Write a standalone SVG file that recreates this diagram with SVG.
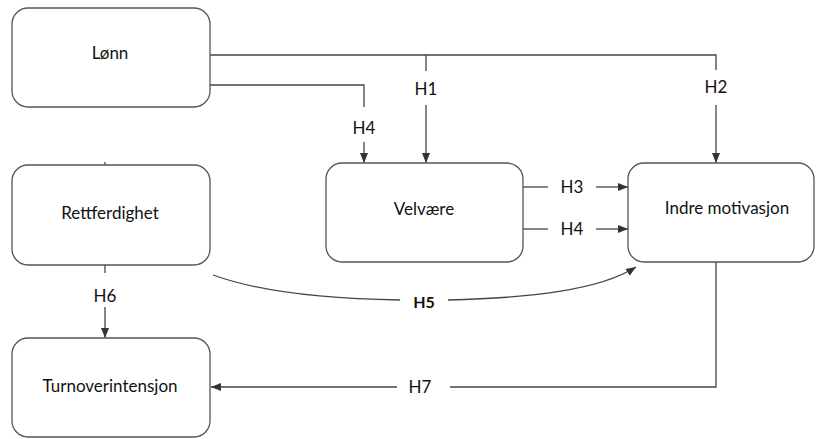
<svg xmlns="http://www.w3.org/2000/svg" width="816" height="439" viewBox="0 0 816 439">
<defs>
<marker id="ah" viewBox="0 0 10 10" refX="10" refY="5" markerWidth="10" markerHeight="10" markerUnits="userSpaceOnUse" orient="auto">
<path d="M0,1 L10,5 L0,9 z" fill="#333"/>
</marker>
<style>
.box{fill:#fff;stroke:#555;stroke-width:1.3}
.t{font-family:Lato,"Open Sans",sans-serif;font-size:17px;fill:#111;text-anchor:middle}
.l{font-family:Lato,"Open Sans",sans-serif;font-size:17px;fill:#111;text-anchor:middle}
.c{fill:none;stroke:#444;stroke-width:1.3}
.a{marker-end:url(#ah)}
</style>
</defs>
<rect width="816" height="439" fill="#fff"/>
<g id="connectors">
<polyline class="c" points="210,55 716,55 716,70"/>
<line class="c" x1="426" y1="55" x2="426" y2="71"/>
<line class="c a" x1="426" y1="105" x2="426" y2="163"/>
<line class="c a" x1="716" y1="105" x2="716" y2="163"/>
<polyline class="c" points="210,85 364,85 364,107"/>
<line class="c a" x1="364" y1="142" x2="364" y2="163"/>
<line class="c" x1="523" y1="187" x2="548" y2="187"/>
<line class="c a" x1="596" y1="187" x2="628" y2="187"/>
<line class="c" x1="523" y1="229" x2="548" y2="229"/>
<line class="c a" x1="596" y1="229" x2="628" y2="229"/>
<path class="c" d="M213,275 C260,292 330,299 400,300"/>
<path class="c a" d="M448,300 C530,298 600,290 636,267"/>
<line class="c" x1="105" y1="265" x2="105" y2="273"/>
<line class="c a" x1="105" y1="307" x2="105" y2="338"/>
<polyline class="c" points="716,262 716,387 450,387"/>
<line class="c a" x1="397" y1="387" x2="211" y2="387"/>
<line class="c" x1="105" y1="162" x2="105" y2="165" stroke-width="0.8"/>
<text class="l" x="426" y="95">H1</text>
<text class="l" x="716" y="93">H2</text>
<text class="l" x="364" y="134">H4</text>
<text class="l" x="572" y="193">H3</text>
<text class="l" x="572" y="235">H4</text>
<text class="l" x="424" y="308" font-weight="bold" style="font-size:16px">H5</text>
<text class="l" x="105" y="302">H6</text>
<text class="l" x="420" y="393">H7</text>
</g>
<g id="lonn">
<rect class="box" x="12" y="8" width="198" height="99" rx="16"/>
<text class="t" x="110" y="59">Lønn</text>
</g>
<g id="rettferdighet">
<rect class="box" x="12" y="165" width="198" height="100" rx="16"/>
<text class="t" x="110" y="219">Rettferdighet</text>
</g>
<g id="velvaere">
<rect class="box" x="326" y="163" width="197" height="99" rx="16"/>
<text class="t" x="424" y="215">Velvære</text>
</g>
<g id="indre">
<rect class="box" x="628" y="163" width="186" height="99" rx="16"/>
<text class="t" x="727" y="214">Indre motivasjon</text>
</g>
<g id="turnover">
<rect class="box" x="12" y="338" width="198" height="99" rx="16"/>
<text class="t" x="110" y="392">Turnoverintensjon</text>
</g>
</svg>
